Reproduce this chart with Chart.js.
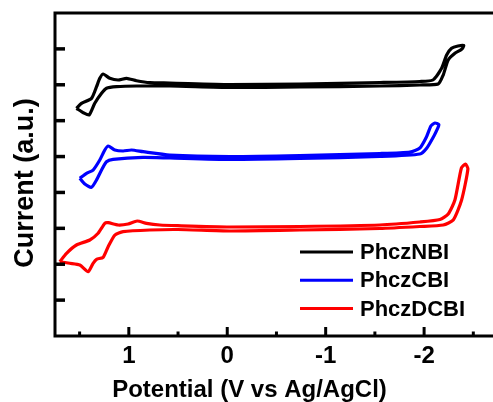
<!DOCTYPE html>
<html>
<head>
<meta charset="utf-8">
<title>CV curves</title>
<script src="https://cdn.jsdelivr.net/npm/chart.js@4.4.1/dist/chart.umd.min.js"></script>
<style>
    html, body { margin: 0; padding: 0; background: #fff; }
    canvas { display: block; }
</style>
</head>
<body>
<canvas id="cvChart" width="493" height="402"></canvas>
<script>
// Cyclic voltammograms (potential vs Ag/AgCl), curves offset vertically in a.u.
const seriesNames = ['PhczNBI', 'PhczCBI', 'PhczDCBI'];
const seriesColors = ['#000000', '#0000ff', '#ff0000'];

// PhczNBI loop
const nbiV = [1.532, 1.481, 1.379, 1.328, 1.295, 1.261, 1.193, 1.109, 1.023, 0.922, 0.787, 0.583, -0.026, -0.738,
    -1.551, -1.957, -2.089, -2.178, -2.229, -2.279, -2.344, -2.404, -2.381, -2.313, -2.245, -2.194, -2.143,
    -1.957, -1.551, -0.738, -0.026, 0.583, 0.922, 1.125, 1.227, 1.277, 1.346, 1.403, 1.457];
const nbiI = [6.344, 6.484, 6.623, 6.946, 7.180, 7.300, 7.180, 7.133, 7.180, 7.113, 7.058, 7.049, 7.008, 7.021,
    7.063, 7.091, 7.133, 7.459, 7.829, 8.016, 8.080, 8.094, 7.988, 7.877, 7.690, 7.272, 7.021,
    6.994, 6.966, 6.938, 6.924, 6.966, 6.966, 6.946, 6.902, 6.762, 6.484, 6.158, 6.213];

// PhczCBI loop
const cbiV = [1.498, 1.430, 1.363, 1.295, 1.244, 1.210, 1.142, 1.058, 0.973, 0.855, 0.583, -0.026, -0.738,
    -1.551, -1.856, -1.957, -2.025, -2.069, -2.110, -2.150, -2.135, -2.100, -2.028, -1.957,
    -1.551, -0.738, -0.026, 0.583, 0.855, 1.160, 1.227, 1.277, 1.328, 1.379, 1.447];
const cbiI = [4.394, 4.533, 4.625, 4.904, 5.182, 5.294, 5.182, 5.155, 5.182, 5.135, 5.043, 5.001, 5.029,
    5.085, 5.127, 5.238, 5.553, 5.851, 5.935, 5.893, 5.768, 5.573, 5.238, 5.071,
    5.001, 4.946, 4.918, 4.960, 4.979, 4.923, 4.856, 4.625, 4.347, 4.143, 4.235];

// PhczDCBI loop
const dcbiV = [1.701, 1.633, 1.532, 1.396, 1.312, 1.244, 1.210, 1.109, 1.007, 0.916, 0.820, 0.685, 0.502,
    -0.026, -0.738, -1.551, -1.957, -2.161, -2.245, -2.313, -2.379, -2.420, -2.445, -2.381, -2.296,
    -2.194, -1.957, -1.551, -0.738, -0.026, 0.502, 0.787, 1.058, 1.142, 1.210, 1.261, 1.328, 1.363,
    1.414, 1.498, 1.600];
const dcbiI = [2.070, 2.304, 2.536, 2.675, 2.862, 3.140, 3.157, 3.093, 3.121, 3.204, 3.140, 3.093, 3.073,
    3.037, 3.051, 3.093, 3.176, 3.246, 3.399, 3.789, 4.681, 4.792, 4.653, 3.789, 3.232,
    3.093, 3.051, 2.995, 2.953, 2.926, 2.967, 2.953, 2.906, 2.814, 2.488, 2.193, 2.137, 2.026,
    1.792, 1.978, 2.026];

// Axis ticks
const xLabelTicks = [1, 0, -1, -2];
const xMinorTicks = [1.5, 0.5, -0.5, -1.5, -2.5];
const yTicks = [1, 2, 3, 4, 5, 6, 7, 8];

const FONT = 'Arial, "Liberation Sans", Helvetica, sans-serif';

// build a closed loop of {x, y} points
function loop(v, i) {
    const pts = v.map((x, k) => ({ x: x, y: i[k] }));
    pts.push({ x: v[0], y: i[0] });
    return pts;
}

function strokeLine(ctx, x1, y1, x2, y2) {
    ctx.beginPath();
    ctx.moveTo(x1, y1);
    ctx.lineTo(x2, y2);
    ctx.stroke();
}

// frame, inward ticks, axis titles and legend
const framePlugin = {
    id: 'framePlugin',
    afterDraw(chart) {
        const { ctx, chartArea: a, scales } = chart;
        const x = scales.x, y = scales.y;
        ctx.save();
        ctx.strokeStyle = '#000';
        ctx.lineWidth = 3;
        ctx.lineCap = 'butt';
        ctx.beginPath();
        ctx.moveTo(a.right, a.top);
        ctx.lineTo(a.left, a.top);
        ctx.lineTo(a.left, a.bottom);
        ctx.lineTo(a.right, a.bottom);
        ctx.stroke();

        ctx.lineWidth = 3.5;
        yTicks.forEach(v => {
            const py = y.getPixelForValue(v);
            strokeLine(ctx, a.left, py, a.left + 10, py);
        });
        ctx.lineWidth = 3;
        xLabelTicks.forEach(v => {
            const px = x.getPixelForValue(v);
            strokeLine(ctx, px, a.bottom, px, a.bottom - 9);
        });
        xMinorTicks.forEach(v => {
            const px = x.getPixelForValue(v);
            strokeLine(ctx, px, a.bottom, px, a.bottom - 4.5);
        });

        // axis titles
        ctx.fillStyle = '#000';
        ctx.font = 'bold 24px ' + FONT;
        ctx.textAlign = 'center';
        ctx.textBaseline = 'alphabetic';
        ctx.fillText('Potential (V vs Ag/AgCl)', 249.5, 397);

        ctx.save();
        ctx.translate(33, 183);
        ctx.rotate(-Math.PI / 2);
        ctx.font = 'bold 27px ' + FONT;
        ctx.fillText('Current (a.u.)', 0, 0);
        ctx.restore();

        // legend
        ctx.font = 'bold 22px ' + FONT;
        ctx.textAlign = 'left';
        ctx.textBaseline = 'middle';
        ctx.lineWidth = 3;
        seriesNames.forEach((name, k) => {
            const ly = 252 + k * 28.3;
            ctx.strokeStyle = seriesColors[k];
            strokeLine(ctx, 300, ly, 353, ly);
            ctx.fillText(name, 360, ly + 1);
        });
        ctx.restore();
    }
};

const series = [loop(nbiV, nbiI), loop(cbiV, cbiI), loop(dcbiV, dcbiI)];

new Chart(document.getElementById('cvChart').getContext('2d'), {
    type: 'scatter',
    data: {
        datasets: series.map((pts, k) => ({
            label: seriesNames[k],
            data: pts,
            showLine: true,
            borderColor: seriesColors[k],
            borderWidth: 3.2,
            borderJoinStyle: 'round',
            pointRadius: 0,
            fill: false,
            tension: 0.2
        }))
    },
    options: {
        responsive: false,
        animation: false,
        layout: { padding: { top: 13, right: 0, bottom: 0, left: 0 } },
        plugins: {
            legend: { display: false },
            tooltip: { enabled: false }
        },
        scales: {
            x: {
                type: 'linear',
                reverse: true,
                min: -2.7,
                max: 1.75,
                grid: { display: false, drawTicks: false },
                border: { display: false },
                ticks: {
                    color: '#000',
                    padding: 6,
                    font: { family: FONT, size: 24, weight: 'bold' },
                    callback: v => String(v)
                },
                afterBuildTicks: axis => {
                    axis.ticks = xLabelTicks.map(v => ({ value: v }));
                },
                afterFit: axis => { axis.height = 66; }
            },
            y: {
                type: 'linear',
                min: 0,
                max: 9,
                grid: { display: false, drawTicks: false },
                border: { display: false },
                ticks: { display: false },
                afterFit: axis => { axis.width = 55; }
            }
        }
    },
    plugins: [framePlugin]
});
</script>
</body>
</html>
